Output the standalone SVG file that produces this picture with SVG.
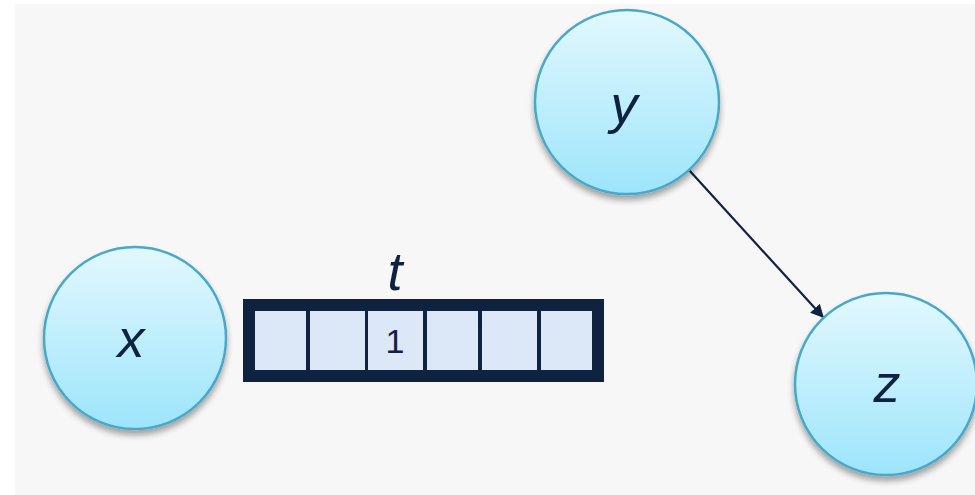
<svg xmlns="http://www.w3.org/2000/svg" width="975" height="495" viewBox="0 0 975 495">
  <defs>
    <linearGradient id="nodeFill" x1="0" y1="0" x2="0" y2="1">
      <stop offset="0" stop-color="#e2f8fe"/>
      <stop offset="1" stop-color="#9de5fb"/>
    </linearGradient>
    <filter id="shadow" x="-20%" y="-20%" width="140%" height="150%">
      <feGaussianBlur in="SourceAlpha" stdDeviation="3"/>
      <feOffset dx="0" dy="5" result="b"/>
      <feComponentTransfer><feFuncA type="linear" slope="0.35"/></feComponentTransfer>
      <feMerge><feMergeNode/><feMergeNode in="SourceGraphic"/></feMerge>
    </filter>
    <marker id="arrow" viewBox="0 0 10 10" refX="9" refY="5" markerWidth="6" markerHeight="6" orient="auto" markerUnits="strokeWidth">
      <path d="M0,0 L10,5 L0,10 z" fill="#0f2340"/>
    </marker>
  </defs>
  <style>
    .node { fill: url(#nodeFill); stroke: #4aa8c8; stroke-width: 2.5; filter: url(#shadow); }
    .lbl { font-family: "Liberation Sans", Arial, sans-serif; font-style: italic; font-size: 54px; fill: #0f2340; text-anchor: middle; }
    .cell { fill: #dce8f7; }
    .num { font-family: "Liberation Sans", Arial, sans-serif; font-size: 34px; fill: #0f2340; text-anchor: middle; }
    .edge { stroke: #0f2340; stroke-width: 2.2; fill: none; }
  </style>
  <rect x="0" y="0" width="975" height="495" fill="#ffffff"/>
  <rect x="15" y="4" width="960" height="491" fill="#f7f7f7"/>

  <g id="connectors">
    <line class="edge" x1="689" y1="170" x2="823" y2="317" marker-end="url(#arrow)"/>
  </g>

  <g id="node-x">
    <circle class="node" cx="135" cy="338" r="91"/>
    <text class="lbl" x="131" y="357">x</text>
  </g>

  <g id="node-y">
    <circle class="node" cx="627" cy="102" r="92"/>
    <text class="lbl" x="624" y="123">y</text>
  </g>

  <g id="node-z">
    <circle class="node" cx="886" cy="384" r="91"/>
    <text class="lbl" x="887" y="402">z</text>
  </g>

  <g id="array-t">
    <text class="lbl" x="395" y="290">t</text>
    <rect x="243" y="299" width="361" height="83" fill="#0f2340"/>
    <rect class="cell" x="255" y="311" width="51" height="59"/>
    <rect class="cell" x="310" y="311" width="55" height="59"/>
    <rect class="cell" x="368" y="311" width="55" height="59"/>
    <rect class="cell" x="427" y="311" width="51" height="59"/>
    <rect class="cell" x="482" y="311" width="55" height="59"/>
    <rect class="cell" x="541" y="311" width="51" height="59"/>
    <text class="num" x="395" y="353">1</text>
  </g>
</svg>
